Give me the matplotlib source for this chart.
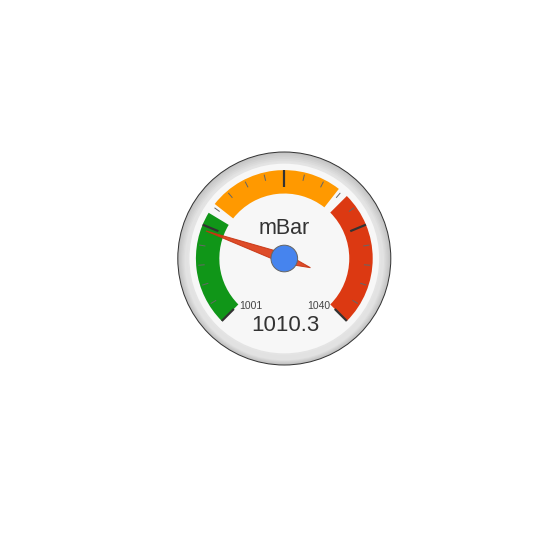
import numpy as np
import matplotlib
matplotlib.use("Agg")
import matplotlib.pyplot as plt
from matplotlib.patches import Circle, Wedge, Polygon

# gauge data
label = "mBar"
value = 1010.3
vmin, vmax = 1001, 1040
bands = [(1001, 1012, "#109618"), (1013, 1026, "#ff9900"), (1027, 1040, "#dc3912")]
major_ticks = 5
minor_ticks = 5

W = H = 558
cx, cy = 284.3, 258.5      # gauge centre in pixels
R = 106.5                  # outer radius in pixels
PX = 0.72                  # 1 px in points at dpi 100


def ang(v):
    return 225.0 - (v - vmin) / (vmax - vmin) * 270.0


def pol(r, a):
    t = np.radians(a)
    return r * np.cos(t), r * np.sin(t)


fig = plt.figure(figsize=(W / 100, H / 100), dpi=100)
ax = fig.add_axes([0, 0, 1, 1])
ax.set_xlim(-cx, W - cx)
ax.set_ylim(cy - H, cy)
ax.set_aspect("equal")
ax.axis("off")

# outer ring with a rough radial gradient
ax.add_patch(Circle((0, 0), R, fc="#c4c4c4", ec="#333333", lw=1.0 * PX, zorder=1))
for i, c in enumerate(["#cacaca", "#d0d0d0", "#d6d6d6", "#dcdcdc", "#e2e2e2"]):
    ax.add_patch(Circle((0, -0.5 * i), R * (0.985 - 0.012 * i), fc=c, ec="none", zorder=1))
ax.add_patch(Circle((0, 0), R * 0.9, fc="#f7f7f7", ec="#e4e4e4", lw=2 * PX, zorder=2))

# colour bands
r_out, r_in = R * 0.83, R * 0.61
for lo, hi, c in bands:
    ax.add_patch(Wedge((0, 0), r_out, ang(hi), ang(lo), width=r_out - r_in,
                       fc=c, ec="none", zorder=3))

# ticks
n_minor = (major_ticks - 1) * minor_ticks
for k in range(n_minor + 1):
    v = vmin + (vmax - vmin) * k / n_minor
    a = ang(v)
    if k % minor_ticks == 0:
        x0, y0 = pol(r_out, a)
        x1, y1 = pol(R * 0.67, a)
        ax.plot([x0, x1], [y0, y1], color="#333333", lw=2.2 * PX,
                solid_capstyle="butt", zorder=4)
    else:
        x0, y0 = pol(R * 0.81, a)
        x1, y1 = pol(R * 0.75, a)
        ax.plot([x0, x1], [y0, y1], color="#666666", lw=1.0 * PX,
                solid_capstyle="butt", zorder=4)

# labels
font = "Liberation Sans"
ax.text(0, 30, label, ha="center", va="center", fontsize=15.5,
        color="#333333", family=font, zorder=5)
ax.text(-33, -47.5, str(vmin), ha="center", va="center", fontsize=7.5,
        color="#444444", family=font, zorder=5)
ax.text(34, -47.5, str(vmax), ha="center", va="center", fontsize=7.5,
        color="#444444", family=font, zorder=5)
ax.text(1.2, -67, f"{value:.1f}", ha="center", va="center", fontsize=16,
        color="#333333", family=font, zorder=5)

# needle
a = ang(value)
tip = pol(R * 0.78, a)
tail = pol(R * 0.26, a + 180)
s1 = pol(R * 0.047, a + 90)
s2 = pol(R * 0.047, a - 90)
ax.add_patch(Polygon([tip, s1, tail, s2], closed=True, fc="#dc3912",
                     ec="#c63310", lw=1.0 * PX, alpha=0.9, zorder=6))
ax.add_patch(Circle((0, 0), R * 0.125, fc="#4684ee", ec="#666666",
                    lw=1.0 * PX, zorder=7))

fig.savefig("out.png", dpi=100, facecolor="white")
